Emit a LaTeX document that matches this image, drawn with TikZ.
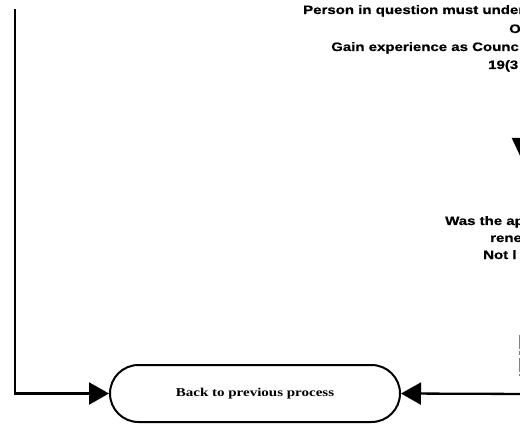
\documentclass[tikz,border=0pt]{standalone}
\usepackage{fontspec}
\usepackage{graphicx}
\setmainfont{Liberation Serif}
\newfontfamily\labelfont[BoldFeatures={FakeBold=0.5}]{Liberation Sans}
\usetikzlibrary{arrows.meta,shapes.misc}

\tikzset{
  flowline/.style={line width=2.3pt, -{Triangle[length=20pt,width=22pt]}},
  terminal/.style={rounded rectangle, draw, line width=2pt,
    minimum width=290pt, minimum height=57pt, inner sep=0pt},
  sidetext/.style={anchor=base west, inner sep=0pt,
    font=\labelfont\bfseries\fontsize{12.2pt}{14pt}\selectfont},
}
% horizontally widened label text
\newcommand{\widetext}[1]{\scalebox{1.23}[1]{#1}}

\begin{document}
\begin{tikzpicture}[x=1pt, y=-1pt]
  \useasboundingbox (0,0) rectangle (520,425);
  \clip (0,0) rectangle (520,425);

  % terminal node
  \node[terminal] (back) at (255,393.5)
    {\scalebox{1.25}[1]{\bfseries\fontsize{12pt}{14pt}\selectfont Back to previous process}};

  % return path from the top-left
  \coordinate (loopstart) at (15,9);
  \draw[flowline] (loopstart) |- (back.west);

  % return path from the right
  \coordinate (rightin) at (530,394);
  \draw[flowline] (rightin) -- (back.east);

  % downward connector at the right edge
  \coordinate (downfrom) at (522,90);
  \coordinate (downto) at (522,160);
  \draw[line width=2.3pt, -{Triangle[length=22pt,width=20pt]}] (downfrom) -- (downto);

  % faint edge of a box at the right
  \draw[gray, line width=0.8pt, dash pattern=on 14pt off 2pt on 4pt off 3pt]
    (519,335) -- (519,376);

  % text blocks running past the right edge
  \node[sidetext] (t1) at (303,14) {\widetext{Person in question must under}};
  \node[sidetext] (t2) at (509,33) {\widetext{O}};
  \node[sidetext] (t3) at (331,51) {\widetext{Gain experience as Counc}};
  \node[sidetext] (t4) at (488,69) {\widetext{19(3}};

  \node[sidetext] (t5) at (445,225) {\widetext{Was the ap}};
  \node[sidetext] (t6) at (490,242) {\widetext{rene}};
  \node[sidetext] (t7) at (483,259) {\widetext{Not l}};
\end{tikzpicture}
\end{document}
